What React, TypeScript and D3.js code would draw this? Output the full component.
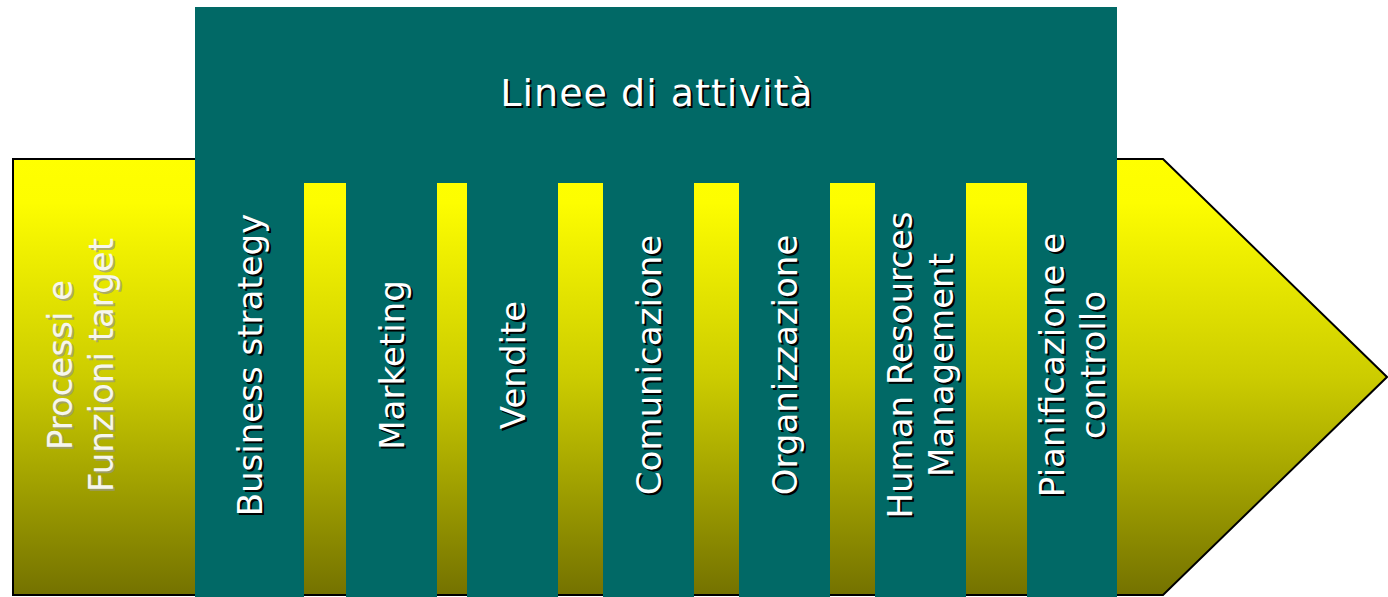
import React, { useEffect, useRef } from 'react';
import * as d3 from 'd3';

// chart content
const title = 'Linee di attività';
const targetLines = ['Processi e', 'Funzioni target'];
const activities: string[][] = [
  ['Business strategy'],
  ['Marketing'],
  ['Vendite'],
  ['Comunicazione'],
  ['Organizzazione'],
  ['Human Resources', 'Management'],
  ['Pianificazione e', 'controllo'],
];

// layout (px)
const W = 1388;
const H = 597;
const colSpans: [number, number][] = [
  [195, 304],
  [346, 437],
  [467, 558],
  [603, 694],
  [739, 830],
  [875, 966],
  [1027, 1117],
];
const arrow = { left: 13, top: 159, bottom: 595, shoulder: 1163, tip: 1387 };
const band = { top: 7, colTop: 183 };
const TEAL = '#016966';
const FONT = "'DejaVu Sans', Verdana, sans-serif";
const LINE_H = 41;
const LABEL_Y = 365;

const App: React.FC = () => {
  const ref = useRef<SVGSVGElement>(null);

  useEffect(() => {
    if (!ref.current) return;
    const svg = d3.select(ref.current);
    svg.selectAll('*').remove();

    const defs = svg.append('defs');
    const grad = defs
      .append('linearGradient')
      .attr('id', 'arrowFill')
      .attr('gradientUnits', 'userSpaceOnUse')
      .attr('x1', 0)
      .attr('x2', 0)
      .attr('y1', arrow.top)
      .attr('y2', arrow.bottom);
    [
      [0, '#ffff00'],
      [0.1, '#fdfd00'],
      [0.5, '#cccc00'],
      [0.75, '#a0a000'],
      [1, '#747200'],
    ].forEach(([o, c]) => grad.append('stop').attr('offset', o as number).attr('stop-color', c as string));

    // the yellow arrow
    const mid = (arrow.top + arrow.bottom) / 2;
    const arrowPts: [number, number][] = [
      [arrow.left, arrow.top],
      [arrow.shoulder, arrow.top],
      [arrow.tip, mid],
      [arrow.shoulder, arrow.bottom],
      [arrow.left, arrow.bottom],
    ];
    svg
      .append('path')
      .attr('d', d3.line()(arrowPts) + 'Z')
      .attr('fill', 'url(#arrowFill)')
      .attr('stroke', '#000')
      .attr('stroke-width', 2)
      .attr('stroke-linejoin', 'miter');

    // teal band: header box + columns
    const p = d3.path();
    const first = colSpans[0];
    const last = colSpans[colSpans.length - 1];
    p.moveTo(first[0], band.top);
    p.lineTo(last[1], band.top);
    p.lineTo(last[1], H + 5);
    for (let i = colSpans.length - 1; i >= 0; i--) {
      const [x0, x1] = colSpans[i];
      if (i < colSpans.length - 1) {
        p.lineTo(x1, band.colTop);
        p.lineTo(x1, H + 5);
      }
      p.lineTo(x0, H + 5);
      if (i > 0) p.lineTo(x0, band.colTop);
    }
    p.closePath();
    svg.append('path').attr('d', p.toString()).attr('fill', TEAL);

    // text with a drop shadow
    const shadowText = (
      x: number,
      y: number,
      rot: number,
      t: string,
      size: number,
      fill: string,
      shadow: string,
      shadowOpacity: number,
      spacing = 0
    ) => {
      [
        [2, 2, shadow, shadowOpacity],
        [0, 0, fill, 1],
      ].forEach(([dx, dy, c, op]) => {
        svg
          .append('text')
          .attr('transform', `translate(${x + (dx as number)},${y + (dy as number)}) rotate(${rot})`)
          .attr('text-anchor', 'middle')
          .attr('font-family', FONT)
          .attr('font-size', size)
          .attr('letter-spacing', spacing)
          .attr('fill', c as string)
          .attr('fill-opacity', op as number)
          .text(t);
      });
    };

    const verticalLabel = (lines: string[], cx: number, fill: string, shadow: string, op: number) => {
      lines.forEach((t, i) => {
        const bx = cx + 12 + (i - (lines.length - 1) / 2) * LINE_H;
        shadowText(bx, LABEL_Y, -90, t, 34, fill, shadow, op);
      });
    };

    // title
    shadowText((first[0] + last[1]) / 2 + 1, 106, 0, title, 38, '#ffffff', '#000000', 1, 1);

    // column labels
    const x = d3
      .scaleOrdinal<number, number>()
      .domain(d3.range(activities.length))
      .range(colSpans.map(([a, b]) => (a + b) / 2));
    activities.forEach((lines, i) => verticalLabel(lines, x(i), '#ffffff', '#000000', 1));

    // target label on the yellow part
    verticalLabel(targetLines, 80, '#f6f6ee', '#9a9a80', 0.75);
  }, []);

  return (
    <svg
      ref={ref}
      width={W}
      height={H}
      style={{ position: 'absolute', left: 0, top: 0, display: 'block' }}
    />
  );
};

export default App;
